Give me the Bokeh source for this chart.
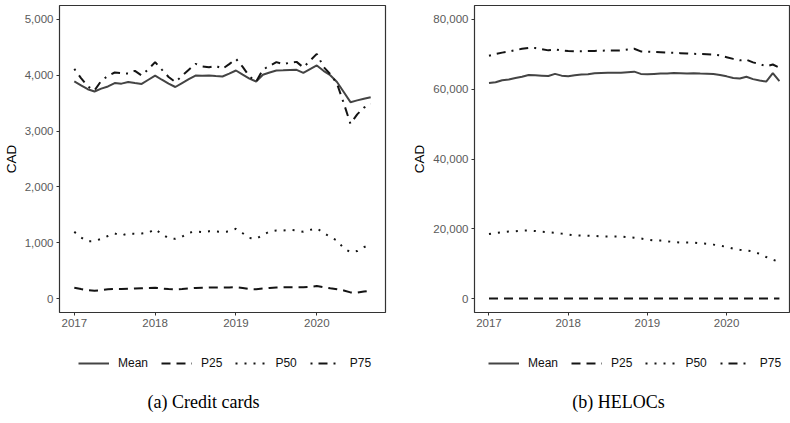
import pandas as pd
from bokeh.plotting import figure
from bokeh.layouts import row, column
from bokeh.models import (Legend, LegendItem, Label, FixedTicker,
                          NumeralTickFormatter, PrintfTickFormatter, Range1d)
from bokeh.embed import file_html
from bokeh.resources import INLINE

# ---------------- data ----------------
months = pd.date_range("2017-01-01", "2020-09-01", freq="MS")
t = list(months.year + (months.month - 1) / 12.0)

series_names = ["Mean", "P25", "P50", "P75"]
year_ticks = [2017, 2018, 2019, 2020]

cc_ticks = [0, 1000, 2000, 3000, 4000, 5000]
cc_mean = [3889, 3820, 3750, 3710, 3760, 3800, 3860, 3850, 3880, 3860,
           3845, 3920, 3995, 3920, 3850, 3790, 3860, 3930, 3995, 3990,
           3996, 3985, 3978, 4030, 4086, 4010, 3940, 3889, 4009, 4050,
           4086, 4090, 4095, 4098, 4044, 4110, 4176, 4080, 4000, 3880,
           3700, 3518, 3550, 3580, 3608]
cc_p25 = [195, 170, 148, 140, 150, 165, 172, 170, 175, 180,
          185, 190, 192, 180, 170, 165, 170, 180, 190, 195,
          197, 196, 197, 200, 205, 190, 170, 165, 180, 190,
          198, 200, 203, 203, 203, 210, 225, 205, 185, 168,
          145, 110, 105, 125, 143]
cc_p50 = [1195, 1095, 1025, 1030, 1070, 1120, 1165, 1130, 1165, 1160,
          1165, 1180, 1243, 1155, 1080, 1070, 1110, 1180, 1200, 1190,
          1205, 1200, 1195, 1200, 1250, 1170, 1085, 1070, 1140, 1200,
          1219, 1220, 1231, 1220, 1195, 1230, 1258, 1180, 1100, 1040,
          900, 830, 850, 920, 973]
cc_p75 = [4115, 3950, 3800, 3728, 3900, 3990, 4050, 4040, 4030, 4080,
          3996, 4110, 4235, 4100, 3970, 3877, 3990, 4100, 4205, 4160,
          4145, 4170, 4116, 4200, 4295, 4150, 3980, 3889, 4100, 4170,
          4235, 4200, 4225, 4240, 4140, 4260, 4384, 4150, 4020, 3850,
          3500, 3130, 3300, 3420, 3488]

he_ticks = [0, 20000, 40000, 60000, 80000]
he_mean = [61800, 62000, 62600, 62800, 63200, 63600, 64100, 64000, 63900, 63800,
           64400, 63900, 63700, 64000, 64200, 64300, 64600, 64650, 64700, 64700,
           64750, 64900, 65050, 64400, 64300, 64400, 64500, 64500, 64650, 64600,
           64550, 64600, 64500, 64450, 64350, 64100, 63700, 63200, 63100, 63600,
           62900, 62500, 62200, 64600, 62300]
he_p25 = [0, 0, 0, 0, 0, 0, 0, 0, 0, 0,
          0, 0, 0, 0, 0, 0, 0, 0, 0, 0,
          0, 0, 0, 0, 0, 0, 0, 0, 0, 0,
          0, 0, 0, 0, 0, 0, 0, 0, 0, 0,
          0, 0, 0, 0, 0]
he_p50 = [18500, 18800, 19000, 19200, 19300, 19450, 19500, 19350, 19150, 19000,
          18850, 18600, 18350, 18100, 18050, 18000, 17950, 17800, 17780, 17780,
          17770, 17600, 17450, 17200, 16900, 16650, 16600, 16400, 16200, 16060,
          16060, 16050, 15850, 15700, 15450, 15150, 14800, 14300, 13950, 13750,
          13500, 12800, 11900, 11100, 10500]
he_p75 = [69600, 70100, 70500, 70800, 71200, 71600, 71850, 71800, 71500, 71150,
          71400, 71100, 70950, 70900, 70900, 70950, 71000, 71050, 71100, 71100,
          71150, 71400, 71600, 70850, 70750, 70700, 70600, 70500, 70450, 70350,
          70250, 70150, 70100, 70050, 69950, 69700, 69200, 68700, 68300, 68450,
          67700, 67200, 66600, 67100, 66200]

captions = ["(a) Credit cards", "(b) HELOCs"]

# ---------------- styles ----------------
STYLES = {
    "Mean": dict(line_color="#444444", line_dash="solid"),
    "P25": dict(line_color="#141414", line_dash="9 6"),
    "P50": dict(line_color="#141414", line_dash="2 7"),
    "P75": dict(line_color="#141414", line_dash="2 6 9 6"),
}
SANS = "Liberation Sans"
TOP_H = 333


def make_panel(values, yticks, x_end, y_range, width, left, right):
    p = figure(width=width, height=TOP_H, output_backend="svg",
               toolbar_location=None,
               x_range=Range1d(2016.817, x_end), y_range=Range1d(*y_range),
               min_border_left=left, min_border_right=right,
               min_border_top=5, min_border_bottom=TOP_H - 312)
    p.background_fill_color = "white"
    p.border_fill_color = "white"
    p.outline_line_color = "#333333"
    p.outline_line_width = 1.2
    p.grid.visible = False

    for name, ys in zip(series_names, values):
        p.line(t, ys, line_width=2, **STYLES[name])

    p.xaxis.ticker = FixedTicker(ticks=year_ticks)
    p.xaxis.formatter = PrintfTickFormatter(format="%d")
    p.yaxis.ticker = FixedTicker(ticks=yticks)
    p.yaxis.formatter = NumeralTickFormatter(format="0,0")
    for ax in (p.xaxis[0], p.yaxis[0]):
        ax.axis_line_color = None
        ax.major_tick_line_color = "#333333"
        ax.major_tick_out = 3
        ax.major_tick_in = 0
        ax.minor_tick_line_color = None
        ax.major_label_text_font = SANS
        ax.major_label_text_font_size = "11.5px"
        ax.major_label_text_color = "#5a5a5a"
        ax.major_label_standoff = 3
    p.yaxis.axis_label = "CAD"
    p.yaxis.axis_label_text_font = SANS
    p.yaxis.axis_label_text_font_size = "13.5px"
    p.yaxis.axis_label_text_font_style = "normal"
    p.yaxis.axis_label_text_color = "black"
    p.yaxis.axis_label_standoff = 3
    return p


p1 = make_panel([cc_mean, cc_p25, cc_p50, cc_p75], cc_ticks, 2020.85,
                (-250, 5250), 400, 59, 15)
p2 = make_panel([he_mean, he_p25, he_p50, he_p75], he_ticks, 2020.794,
                (-4014, 84014), 390, 74, 1)

# ---------------- legends and captions strip ----------------
BOT_H = 423 - TOP_H
p3 = figure(width=790, height=BOT_H, output_backend="svg", toolbar_location=None,
            x_axis_type=None, y_axis_type=None,
            x_range=Range1d(0, 1), y_range=Range1d(0, 1),
            min_border_left=0, min_border_right=0,
            min_border_top=0, min_border_bottom=0)
p3.outline_line_color = None
p3.grid.visible = False
p3.background_fill_color = "white"
p3.border_fill_color = "white"

# legend-only proxies (no visible points)
nan = float("nan")
proxies = {n: p3.line(x=[nan], y=[nan], line_width=2, **STYLES[n])
           for n in series_names}

for leg_x, cap_x, caption in [(78, 203, captions[0]), (488, 618, captions[1])]:
    items = [LegendItem(label=n, renderers=[proxies[n]]) for n in series_names]
    legend = Legend(items=items, location=(leg_x, BOT_H - (363 - TOP_H) - 7),
                    orientation="horizontal",
                    glyph_width=31, glyph_height=14, label_standoff=9,
                    spacing=13, padding=0, margin=0,
                    border_line_color=None, background_fill_alpha=0,
                    label_text_font=SANS, label_text_font_size="12px",
                    label_text_color="#111111", label_height=14)
    p3.add_layout(legend)
    p3.add_layout(Label(x=cap_x, y=423 - 401, x_units="screen", y_units="screen",
                        text=caption, text_align="center",
                        text_baseline="middle", text_font="Liberation Serif",
                        text_font_size="18px", text_color="black"))

layout = column(row(p1, p2, spacing=0), p3, spacing=0)
open("out.html", "w").write(file_html(layout, INLINE))
